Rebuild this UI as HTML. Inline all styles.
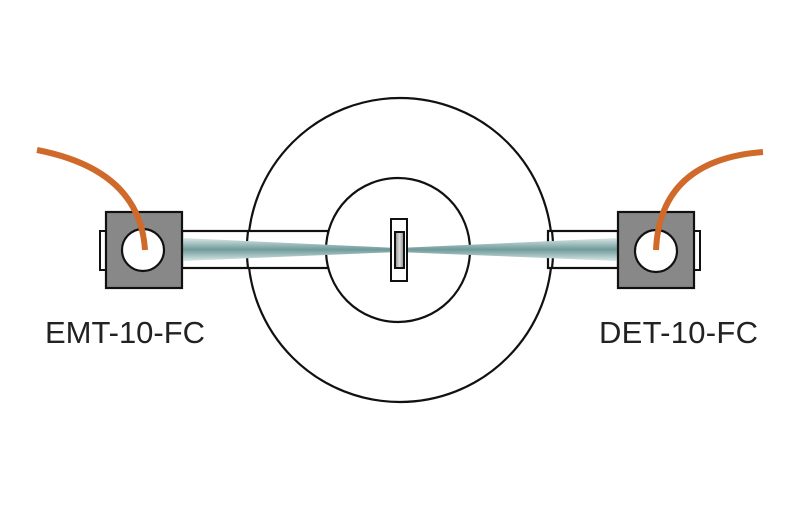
<!DOCTYPE html>
<html><head><style>html,body{margin:0;padding:0;background:#fff}</style></head>
<body>
<svg width="800" height="500" viewBox="0 0 800 500" xmlns="http://www.w3.org/2000/svg">
<defs>
<linearGradient id="bl" x1="0" y1="0" x2="0" y2="1">
<stop offset="0" stop-color="#d8e6e6"/><stop offset="0.5" stop-color="#6f9a9a"/><stop offset="1" stop-color="#d8e6e6"/>
</linearGradient>
<linearGradient id="sg" x1="0" y1="0" x2="1" y2="0">
<stop offset="0" stop-color="#888"/><stop offset="0.5" stop-color="#ddd"/><stop offset="1" stop-color="#888"/>
</linearGradient>
</defs>
<g fill="none" stroke="#111" stroke-width="2.2">
<circle cx="400" cy="250" r="152"/>
</g>
<rect x="182" y="231" width="146" height="37" fill="#fff" stroke="#111" stroke-width="2.2"/>
<rect x="548" y="231" width="70" height="37" fill="#fff" stroke="#111" stroke-width="2.2"/>
<path d="M248,231 A152,152 0 0 0 248,268" fill="none" stroke="#111" stroke-width="2.2"/>
<path d="M552,231 A152,152 0 0 1 552,268" fill="none" stroke="#111" stroke-width="2.2"/>
<circle cx="398" cy="250" r="72" fill="#fff" stroke="#111" stroke-width="2.2"/>
<polygon points="182,238 398,248 398,252 182,261" fill="url(#bl)"/>
<polygon points="618,238 398,248 398,252 618,261" fill="url(#bl)"/>
<rect x="391" y="219" width="16" height="62" fill="#fff" stroke="#111" stroke-width="2"/>
<rect x="395" y="232" width="9" height="36" fill="url(#sg)" stroke="#111" stroke-width="2"/>
<rect x="100" y="231" width="7" height="39" fill="#fff" stroke="#111" stroke-width="2"/>
<rect x="106" y="212" width="76" height="76" fill="#888" stroke="#111" stroke-width="2.2"/>
<circle cx="143" cy="250" r="21" fill="#fff" stroke="#111" stroke-width="2.2"/>
<rect x="693" y="231" width="7" height="39" fill="#fff" stroke="#111" stroke-width="2"/>
<rect x="618" y="212" width="76" height="76" fill="#888" stroke="#111" stroke-width="2.2"/>
<circle cx="656" cy="251" r="21" fill="#fff" stroke="#111" stroke-width="2.2"/>
<path d="M37,150 Q140,170 145,250" fill="none" stroke="#cf6a2b" stroke-width="6"/>
<path d="M763,152 Q660,160 656,250" fill="none" stroke="#cf6a2b" stroke-width="6"/>
<text x="45" y="343" font-family="Liberation Sans, Arial, sans-serif" font-size="31" fill="#222" textLength="160">EMT-10-FC</text>
<text x="599" y="343" font-family="Liberation Sans, Arial, sans-serif" font-size="31" fill="#222" textLength="159">DET-10-FC</text>
</svg>
</body></html>
